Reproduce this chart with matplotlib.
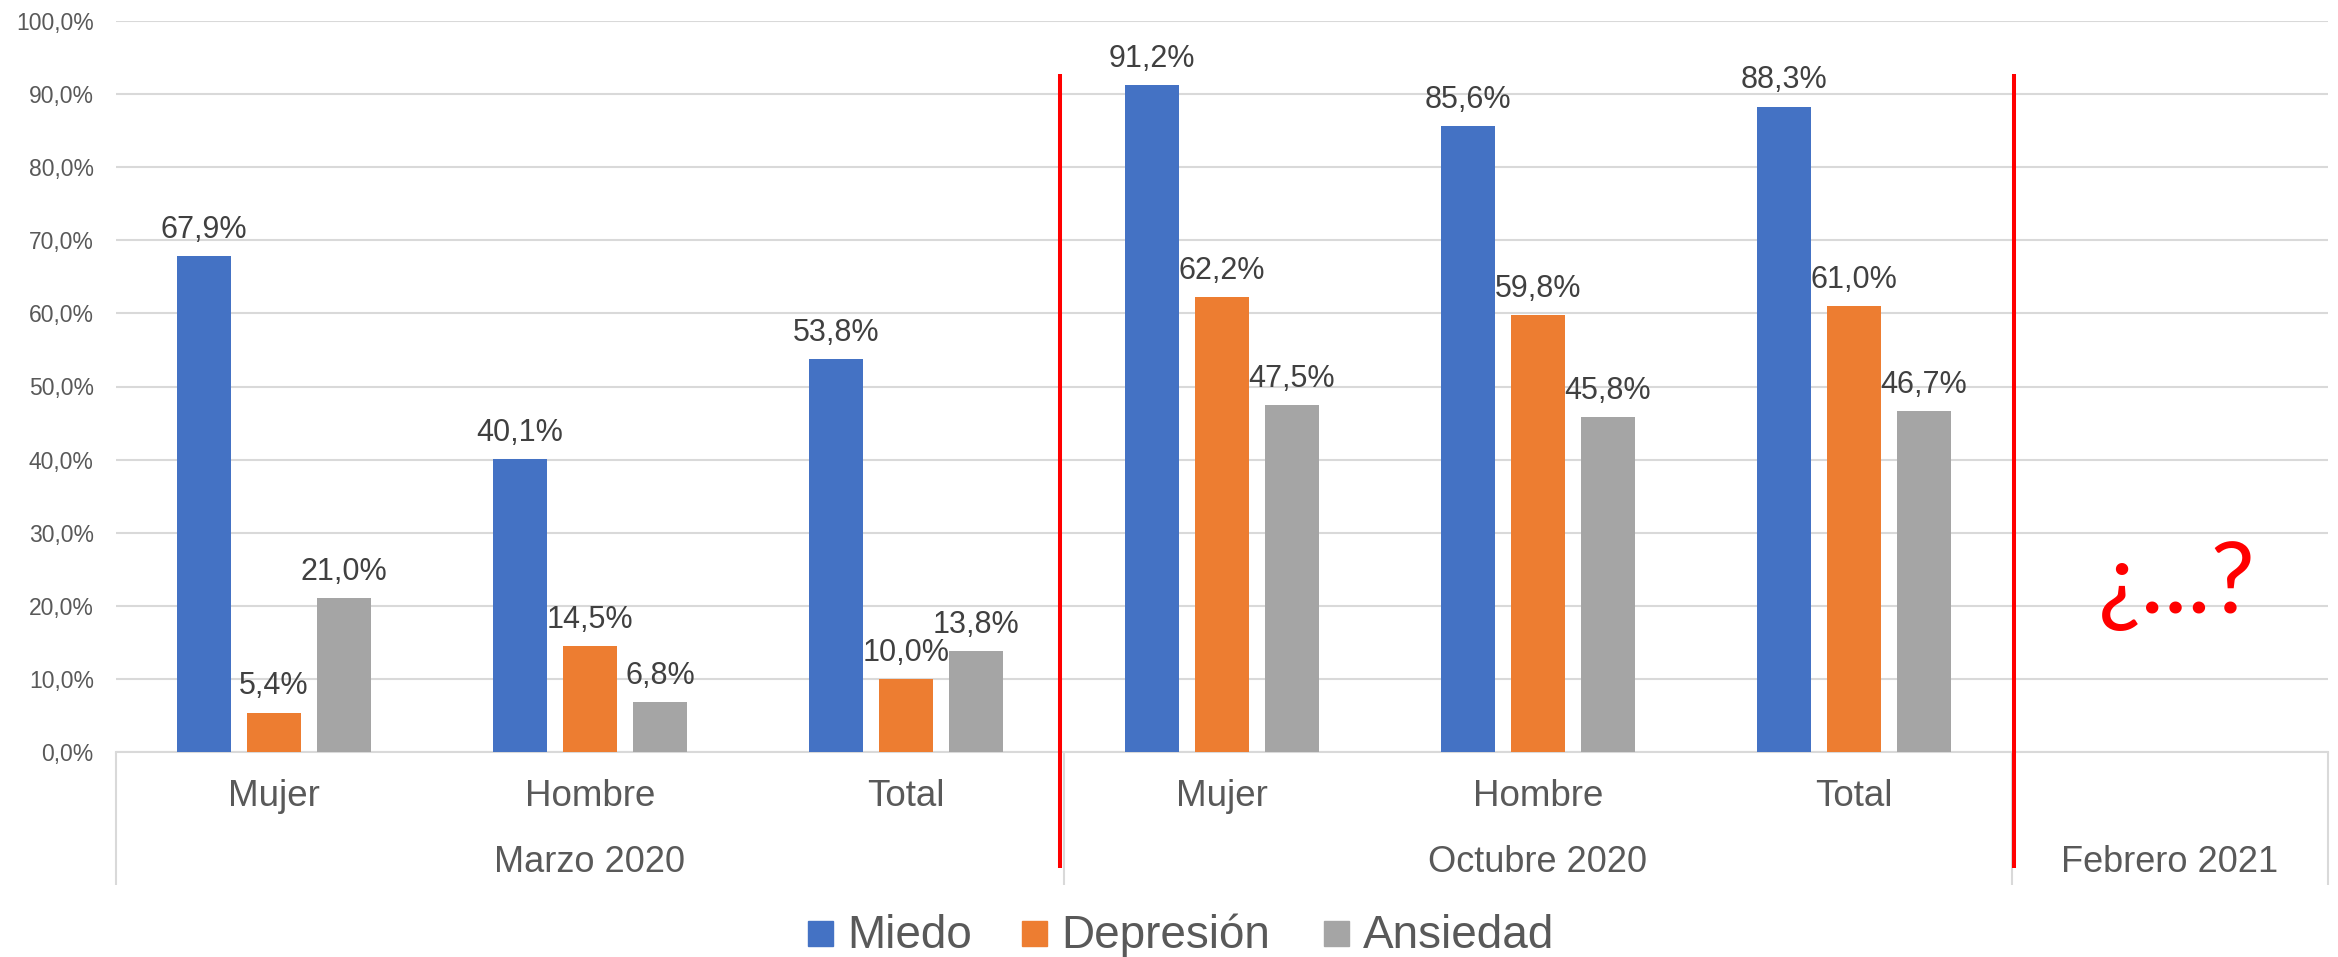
import numpy as np
import matplotlib
matplotlib.use("Agg")
import matplotlib.pyplot as plt
from matplotlib.transforms import blended_transform_factory
from matplotlib.patches import Rectangle

# ---------------- data ----------------
categories = ["Mujer", "Hombre", "Total", "Mujer", "Hombre", "Total", ""]
groups = ["Marzo 2020", "Octubre 2020", "Febrero 2021"]
group_centers = [1.0, 4.0, 6.0]
group_bounds = [-0.5, 2.5, 5.5, 6.5]
series_names = ["Miedo", "Depresión", "Ansiedad"]
miedo = [67.9, 40.1, 53.8, 91.2, 85.6, 88.3]
depresion = [5.4, 14.5, 10.0, 62.2, 59.8, 61.0]
ansiedad = [21.0, 6.8, 13.8, 47.5, 45.8, 46.7]
yticks = [0, 10, 20, 30, 40, 50, 60, 70, 80, 90, 100]
unknown_text = "¿...?"

colors = ["#4472C4", "#ED7D31", "#A5A5A5"]
GRID = "#D9D9D9"
TXT = "#595959"
LBL = "#404040"

plt.rcParams['font.family'] = ['Liberation Sans', 'DejaVu Sans']

W, H = 2338, 957
fig = plt.figure(figsize=(W / 100, H / 100), dpi=100)
ax = fig.add_axes([116 / W, 1 - 752 / H, (2328 - 116) / W, (752 - 21) / H])

offsets = [-0.2215, 0.0, 0.2215]
bw = 0.174
allvals = [miedo, depresion, ansiedad]
for vals, off, col in zip(allvals, offsets, colors):
    x = np.arange(len(vals)) + off
    ax.bar(x, vals, width=bw, color=col, zorder=3)
    for xi, v in zip(x, vals):
        ax.annotate(f"{v:.1f}%".replace(".", ","), (xi, v), xytext=(0, 13),
                    textcoords="offset points", ha="center", va="baseline",
                    fontsize=22, color=LBL, zorder=4)

ax.set_xlim(-0.5, 6.5)
ax.set_ylim(0, 100)
ax.set_yticks(yticks)
ax.set_yticklabels([f"{t:.1f}%".replace(".", ",") for t in yticks])
ax.tick_params(axis="y", length=0, pad=16, labelsize=16.5, labelcolor=TXT)
ax.set_xticks([])
ax.yaxis.grid(True, color=GRID, lw=1.5)
ax.set_axisbelow(True)
for s in ["top", "right", "left"]:
    ax.spines[s].set_visible(False)
ax.spines["bottom"].set_color(GRID)
ax.spines["bottom"].set_linewidth(1.5)

blend = blended_transform_factory(ax.transData, ax.transAxes)
ax_h = 752 - 21

def ay(py):
    return (752 - py) / ax_h

# category axis separators
for b in group_bounds:
    ax.plot([b, b], [0, ay(885)], transform=blend, color=GRID, lw=1.5,
            clip_on=False, solid_capstyle="butt", zorder=1)

for i, c in enumerate(categories):
    if c:
        ax.text(i, ay(797), c, transform=blend, ha="center", va="center",
                fontsize=26.5, color=TXT)
for g, gc in zip(groups, group_centers):
    ax.text(gc, ay(862), g, transform=blend, ha="center", va="center",
            fontsize=26, color=TXT)

# red separators
for rx in [2.487, 5.506]:
    ax.plot([rx, rx], [ay(74), ay(868)], transform=blend, color="#FF0000",
            lw=2.9, clip_on=False, solid_capstyle="butt", zorder=5)

ax.text(6.02, 19.0, unknown_text, ha="center", va="baseline", fontsize=71,
        color="#FF0000", family=["Lato", "DejaVu Sans"], zorder=5)

# legend
leg_sq_x = [808, 1022, 1324]
for name, col, sx in zip(series_names, colors, leg_sq_x):
    fig.patches.append(Rectangle((sx / W, 1 - 946 / H), 25 / W, 25 / H,
                                 transform=fig.transFigure, color=col))
    fig.text((sx + 39) / W, 1 - 948 / H, name, ha="left", va="baseline",
             fontsize=33, color=TXT)

fig.savefig("out.png", dpi=100)
